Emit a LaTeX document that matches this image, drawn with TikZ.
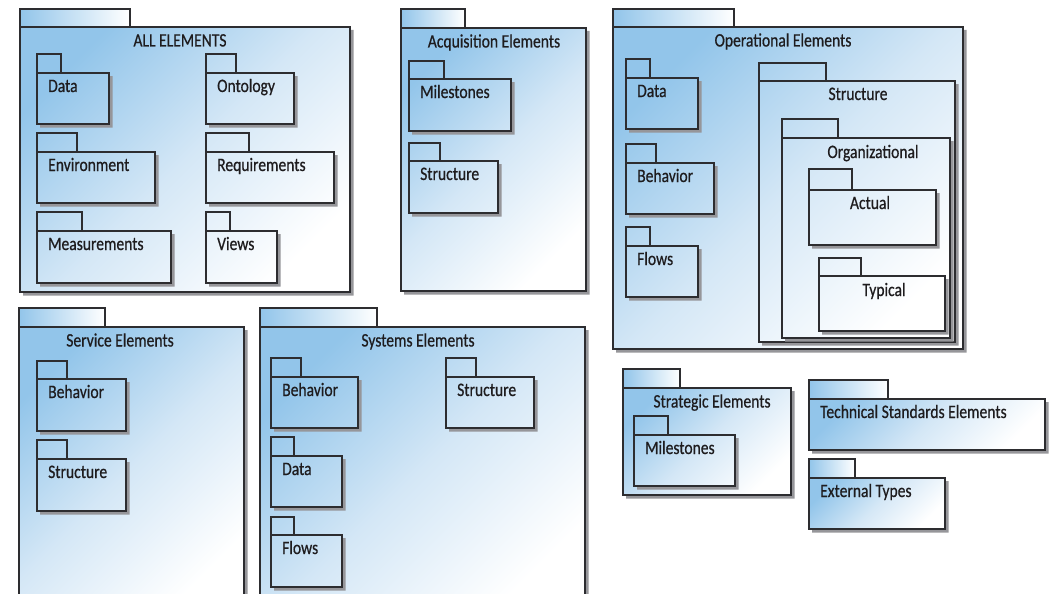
\documentclass[tikz,border=0pt]{standalone}
\usepackage{fontspec}
\setmainfont{Carlito}[FakeStretch=0.82,FakeBold=0.6]
\def\gprgb#1#2#3{rgb,255:red,#1;green,#2;blue,#3}
\colorlet{pkgblue}{\gprgb{146}{197}{234}}
\colorlet{pkgmid}{\gprgb{212}{231}{246}}
\colorlet{pkgedge}{\gprgb{45}{45}{48}}
\colorlet{pkgshade}{\gprgb{150}{150}{154}}
\colorlet{pkgtext}{\gprgb{30}{28}{30}}
\tikzset{
  pkg/.style={draw=pkgedge,line width=1.2pt},
  toptab/.style={pkg,left color=pkgblue,right color=white},
  topbody/.style={pkg,top color=pkgblue,bottom color=white,middle color=pkgmid,shading angle=45},
  pkgshadow/.style={fill=pkgshade},
  pkgtitle/.style={anchor=base,inner sep=0pt,text=pkgtext,font=\fontsize{19}{22}\selectfont},
  pkgname/.style={pkgtitle,anchor=base west},
}
% #1 left, #2 tab top, #3 tab right, #4 body top, #5 right, #6 bottom
\def\toppkg#1#2#3#4#5#6{%
  \fill[pkgshadow] (#5,#4+3) -- (#5+3.5,#4+3) -- (#5+3.5,#6+3.5) -- (#1+3,#6+3.5) -- (#1+3,#6) -- (#5,#6) -- cycle;
  \path[toptab] (#1,#2) rectangle (#3,#4);
  \path[topbody] (#1,#4) rectangle (#5,#6);
}
\def\subpkg#1#2#3#4#5#6{%
  \fill[pkgshadow] (#5,#4+3) -- (#5+3.5,#4+3) -- (#5+3.5,#6+3.5) -- (#1+3,#6+3.5) -- (#1+3,#6) -- (#5,#6) -- cycle;
  \draw[pkg] (#1,#2) rectangle (#3,#4);
  \draw[pkg] (#1,#4) rectangle (#5,#6);
}
\begin{document}
\begin{tikzpicture}[x=1pt,y=-1pt]
\useasboundingbox (0,0) rectangle (1049,594);
\clip (0,0) rectangle (1049,594);

% Draw the packages...
\toppkg{20}{9}{130}{27}{350}{292}
\subpkg{37}{54}{61}{73}{109}{124}
\subpkg{37}{133}{77}{152}{155}{203}
\subpkg{37}{212}{82}{231}{171}{283}
\subpkg{206}{54}{236}{73}{294}{124}
\subpkg{206}{133}{249}{152}{334}{203}
\subpkg{206}{212}{230}{231}{277}{283}

\toppkg{401}{9}{465}{28}{586}{291}
\subpkg{409}{61}{444}{79}{511}{131}
\subpkg{409}{143}{440}{161}{498}{213}

\toppkg{613}{9}{734}{27}{963}{349}
\subpkg{626}{59}{650}{78}{698}{129}
\subpkg{626}{144}{656}{163}{714}{214}
\subpkg{626}{227}{650}{246}{698}{297}
\subpkg{759}{63}{826}{81}{955}{342}
\subpkg{782}{119}{838}{138}{950}{338}
\subpkg{809}{169}{852}{190}{936}{245}
\subpkg{819}{258}{861}{276}{945}{331}

\toppkg{19}{308}{105}{327}{244}{610}
\subpkg{37}{361}{67}{379}{126}{431}
\subpkg{37}{440}{67}{459}{126}{511}

\toppkg{260}{308}{377}{327}{585}{610}
\subpkg{271}{358}{301}{377}{358}{428}
\subpkg{271}{437}{294}{456}{342}{507}
\subpkg{271}{517}{294}{535}{342}{587}
\subpkg{446}{358}{476}{377}{534}{428}

\toppkg{623}{369}{680}{388}{791}{495}
\subpkg{634}{416}{668}{435}{735}{486}

\toppkg{809}{380}{888}{399}{1045}{450}
\toppkg{809}{459}{855}{478}{945}{529}

% Put the names...
\node (all) at (180,46.5) [pkgtitle] {ALL ELEMENTS};
\node (allData) at (48,92) [pkgname] {Data};
\node (allEnv) at (48,171) [pkgname] {Environment};
\node (allMeas) at (48,250) [pkgname] {Measurements};
\node (allOnt) at (217,92) [pkgname] {Ontology};
\node (allReq) at (217,171) [pkgname] {Requirements};
\node (allViews) at (217,250) [pkgname] {Views};

\node (acq) at (494,47.5) [pkgtitle] {Acquisition Elements};
\node (acqMile) at (420,98) [pkgname] {Milestones};
\node (acqStruct) at (420,180) [pkgname] {Structure};

\node (op) at (783,46.5) [pkgtitle] {Operational Elements};
\node (opData) at (637,97) [pkgname] {Data};
\node (opBeh) at (637,182) [pkgname] {Behavior};
\node (opFlows) at (637,265) [pkgname] {Flows};
\node (opStruct) at (858,100) [pkgtitle] {Structure};
\node (opOrg) at (873,158) [pkgtitle] {Organizational};
\node (opActual) at (870,209) [pkgtitle] {Actual};
\node (opTypical) at (884,296) [pkgtitle] {Typical};

\node (svc) at (120,346.5) [pkgtitle] {Service Elements};
\node (svcBeh) at (48,398) [pkgname] {Behavior};
\node (svcStruct) at (48,478) [pkgname] {Structure};

\node (sys) at (418,346.5) [pkgtitle] {Systems Elements};
\node (sysBeh) at (282,396) [pkgname] {Behavior};
\node (sysData) at (282,475) [pkgname] {Data};
\node (sysFlows) at (282,554) [pkgname] {Flows};
\node (sysStruct) at (457,396) [pkgname] {Structure};

\node (strat) at (712,407.5) [pkgtitle] {Strategic Elements};
\node (stratMile) at (645,454) [pkgname] {Milestones};

\node (tech) at (820,418) [pkgname] {Technical Standards Elements};
\node (ext) at (820,497) [pkgname] {External Types};

\end{tikzpicture}
\end{document}
